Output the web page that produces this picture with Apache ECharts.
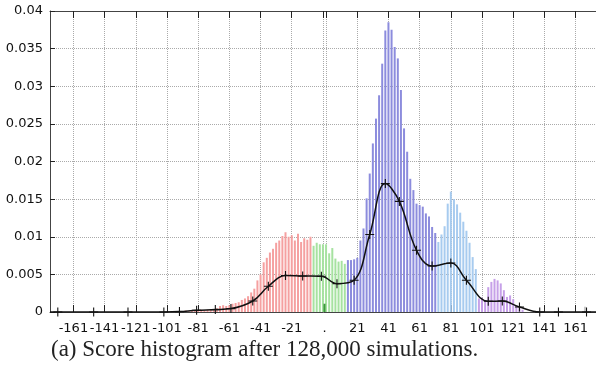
<!DOCTYPE html>
<html>
<head>
<meta charset="utf-8">
<script src="https://cdn.jsdelivr.net/npm/echarts@6/dist/echarts.min.js"></script>
<style>
  html, body { margin: 0; padding: 0; background: #fff; }
  #chart { width: 596px; height: 377px; }
</style>
</head>
<body>
<div id="chart"></div>
<script>
// x axis labels (0 is shown as '.') and grid / tick positions
const labelScores = [-161, -141, -121, -101, -81, -61, -41, -21, 0, 21, 41, 61, 81, 101, 121, 141, 161];
const gridScores = [-161, -141, -121, -101, -81, -61, -41, -21, -1, 1, 21, 41, 61, 81, 101, 121, 141, 161];

// histogram bins, one every 2 points, grouped by colour
const redStart = -97;
const redFreq = [0.0001, 0.0001, 0.0001, 0.0001, 0.0002, 0.0001, 0.0002, 0.0002,
  0.0002, 0.0003, 0.0002, 0.0003, 0.0004, 0.0004, 0.0005, 0.0008, 0.0009, 0.0008,
  0.0009, 0.0011, 0.0012, 0.0013, 0.0016, 0.0018, 0.0021, 0.0026, 0.0031, 0.0042,
  0.0050, 0.0066, 0.0072, 0.0079, 0.0084, 0.0092, 0.0095, 0.0101, 0.0106, 0.0100,
  0.0102, 0.0095, 0.0104, 0.0093, 0.0098, 0.0096, 0.0100];
const greenStart = -7;
const greenFreq = [0.0088, 0.0092, 0.0090, 0.0090, 0.0090, 0.0078, 0.0085, 0.0071, 0.0067, 0.0068, 0.0064];
const blueStart = 15;
const blueFreq = [0.0069, 0.0069, 0.0070, 0.0072, 0.0095, 0.0111, 0.0151, 0.0184, 0.0224,
  0.0257, 0.0288, 0.0330, 0.0374, 0.0385, 0.0375, 0.0352, 0.0337, 0.0295, 0.0244,
  0.0213, 0.0177, 0.0162, 0.0144, 0.0142, 0.0140, 0.0131, 0.0127, 0.0113, 0.0105];
const lightBlueStart = 73;
const lightBlueFreq = [0.0093, 0.0103, 0.0114, 0.0144, 0.0160, 0.0150, 0.0143, 0.0132,
  0.0120, 0.0108, 0.0092, 0.0073, 0.0057];
const purpleStart = 99;
const purpleFreq = [0.0018, 0.0019, 0.0016, 0.0033, 0.0040, 0.0044, 0.0042, 0.0038,
  0.0029, 0.0020, 0.0022, 0.0017, 0.0009, 0.0005, 0.0003];
const drawScores = [0];
const drawFreq = [0.0011];
const greyScores = [167];
const greyFreq = [0.0007];

// smoothed density curve (points marked with +)
const curveScores = [-176, -171, -148, -126, -103, -93, -82, -70, -60, -46, -36, -25, -14, -2, 8, 19,
  29, 39, 48, 59, 69, 81, 91, 105, 114, 125, 138, 150, 168, 176];
const curveDensity = [0, 0, 0, 0, 0, 0.00005, 0.00023, 0.00032, 0.00045, 0.00146, 0.00342, 0.00484,
  0.00478, 0.00475, 0.00377, 0.00421, 0.0103, 0.01706, 0.0147, 0.0082, 0.00611, 0.00651,
  0.00421, 0.00142, 0.00146, 0.00066, 0, 0, 0, 0];

const binItems = (start, freq, color) =>
  freq.map((f, i) => ({ value: [start + 2 * i, f], itemStyle: { color } }));
const listItems = (scores, freq, color) =>
  scores.map((s, i) => ({ value: [s, freq[i]], itemStyle: { color } }));

const barData = [
  ...binItems(redStart, redFreq, '#f5a0a0'),
  ...binItems(greenStart, greenFreq, '#a6e2a0'),
  ...binItems(blueStart, blueFreq, '#8c8cdd'),
  ...binItems(lightBlueStart, lightBlueFreq, '#a7cbef'),
  ...binItems(purpleStart, purpleFreq, '#c6a0e8'),
  ...listItems(drawScores, drawFreq, '#3c9a3c'),
  ...listItems(greyScores, greyFreq, '#c8c8c8'),
];

const lastIdx = curveScores.length - 1;
const curveData = curveScores.map((s, i) => ({
  value: [s, curveDensity[i]],
  symbol: (i === 0 || i === lastIdx) ? 'none' : undefined,
}));

const crossPath = 'path://M0,4.4L10,4.4L10,5.6L0,5.6Z M4.4,0L5.6,0L5.6,10L4.4,10Z';
const frameColor = '#444';
const gridLine = { show: true, lineStyle: { color: '#aaa', type: 'dotted', width: 1 } };

const chart = echarts.init(document.getElementById('chart'), null, { renderer: 'canvas' });
chart.setOption({
  animation: false,
  backgroundColor: '#fff',
  title: {
    text: '(a) Score histogram after 128,000 simulations.',
    left: 51,
    top: 338,
    padding: 0,
    textStyle: { fontFamily: 'Liberation Serif', fontSize: 23, fontWeight: 'normal', color: '#222' },
  },
  grid: { left: 50, right: -3, top: 11, bottom: 65, outerBoundsMode: 'none' },
  xAxis: [
    {
      type: 'value',
      min: -176,
      max: 176,
      position: 'bottom',
      axisLine: { show: true, onZero: false, lineStyle: { color: frameColor, width: 1 } },
      axisTick: { show: true, inside: true, length: 7, customValues: gridScores, lineStyle: { color: '#222' } },
      axisLabel: {
        customValues: labelScores,
        formatter: v => (v === 0 ? '.' : String(v)),
        fontFamily: 'DejaVu Sans',
        fontSize: 13,
        color: '#111',
        margin: 10,
      },
      splitLine: gridLine,
    },
    {
      type: 'value',
      min: -176,
      max: 176,
      position: 'top',
      axisLine: { show: true, onZero: false, lineStyle: { color: frameColor, width: 1 } },
      axisTick: { show: true, inside: true, length: 7, customValues: gridScores, lineStyle: { color: '#222' } },
      axisLabel: { show: false },
      splitLine: { show: false },
    },
  ],
  yAxis: {
    type: 'value',
    min: 0,
    max: 0.04,
    interval: 0.005,
    axisLine: { show: true, onZero: false, lineStyle: { color: frameColor, width: 1 } },
    axisTick: { show: true, inside: true, length: 5, lineStyle: { color: '#222' } },
    axisLabel: { fontFamily: 'DejaVu Sans', fontSize: 13, color: '#111', margin: 7 },
    splitLine: gridLine,
  },
  series: [
    {
      type: 'bar',
      xAxisIndex: 0,
      barWidth: 2,
      data: barData,
      z: 2,
    },
    {
      type: 'line',
      xAxisIndex: 0,
      data: curveData,
      smooth: 0.4,
      symbol: crossPath,
      symbolSize: 9,
      showAllSymbol: true,
      lineStyle: { color: '#111', width: 1.5 },
      itemStyle: { color: '#111' },
      z: 3,
    },
  ],
});
</script>
</body>
</html>
